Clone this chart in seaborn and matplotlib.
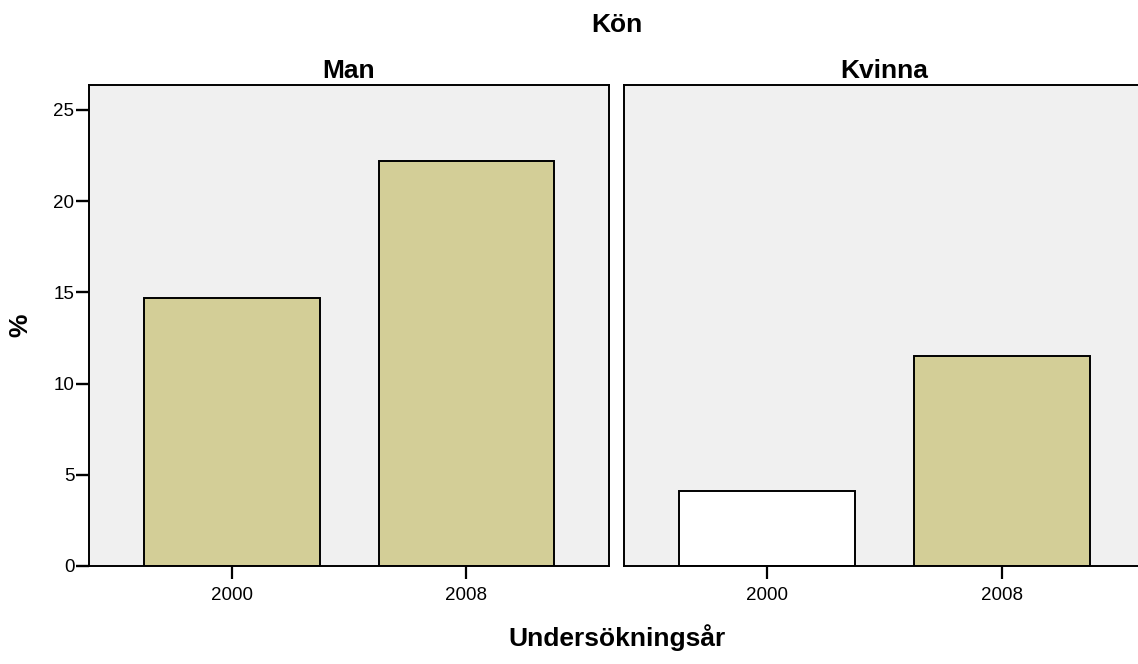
import seaborn as sns
import matplotlib.pyplot as plt
import pandas as pd

sns.set_style("white")
plt.rcParams['font.family'] = ['Liberation Sans', 'DejaVu Sans']
plt.rcParams['text.color'] = 'black'
plt.rcParams['xtick.color'] = 'black'
plt.rcParams['ytick.color'] = 'black'
plt.rcParams['axes.labelcolor'] = 'black'

kon = ['Man', 'Man', 'Kvinna', 'Kvinna']
ar = ['2000', '2008', '2000', '2008']
procent = [14.7, 22.2, 4.1, 11.5]
fyllning = ['fylld', 'fylld', 'tom', 'fylld']

df = pd.DataFrame({'Kön': kon, 'Undersökningsår': ar, '%': procent, 'fyllning': fyllning})
farger = {'fylld': '#d3ce97', 'tom': '#ffffff'}

fig = plt.figure(figsize=(11.38, 6.64), dpi=100)
ax1 = fig.add_axes([0.0782, 0.1476, 0.457, 0.7244])
ax2 = fig.add_axes([0.5483, 0.1476, 0.4579, 0.7244])

for ax, panel in [(ax1, 'Man'), (ax2, 'Kvinna')]:
    sub = df[df['Kön'] == panel]
    sns.barplot(data=sub, x='Undersökningsår', y='%', hue='fyllning', palette=farger,
                order=['2000', '2008'], dodge=False, width=0.748, legend=False,
                saturation=1, edgecolor='black', linewidth=1.4, ax=ax)
    ax.set_facecolor('#f0f0f0')
    ax.set_xlim(-0.61, 1.61)
    ax.set_ylim(0, 26.37)
    ax.set_title(panel, fontsize=19, fontweight='bold', pad=5, color='black')
    ax.set_xlabel('')
    ax.set_ylabel('')
    for s in ax.spines.values():
        s.set_visible(True)
        s.set_color('black')
        s.set_linewidth(1.4)
    ax.tick_params(axis='x', bottom=True, length=9, width=1.6, pad=6,
                   labelsize=13.5, color='black', labelcolor='black')

ax1.set_yticks([0, 5, 10, 15, 20, 25])
ax1.tick_params(axis='y', left=True, length=9.5, width=1.7, pad=1,
                labelsize=13.5, color='black', labelcolor='black')
ax2.set_yticks([])

fig.text(0.542, 0.962, 'Kön', ha='center', va='center', fontsize=19, fontweight='bold')
fig.text(0.542, 0.04, 'Undersökningsår', ha='center', va='center', fontsize=19, fontweight='bold')
fig.text(0.018, 0.51, '%', ha='center', va='center', rotation=90, fontsize=19, fontweight='bold')

fig.savefig('out.png', dpi=100)
